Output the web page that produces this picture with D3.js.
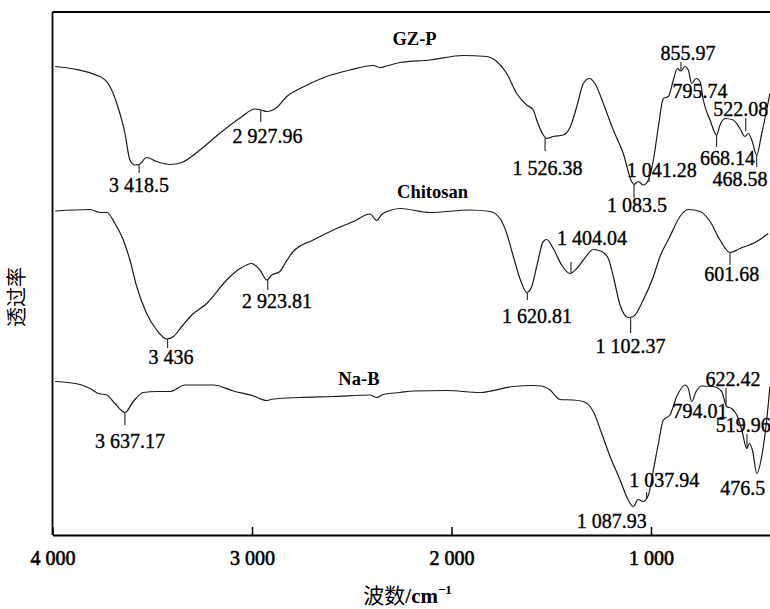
<!DOCTYPE html>
<html><head><meta charset="utf-8">
<script src="https://cdn.jsdelivr.net/npm/d3@7"></script>
<style>
html,body{margin:0;padding:0;background:#fff;}
svg{display:block;}
</style>
</head><body>
<svg id="chart" width="770" height="609"></svg>
<script>
// ---- data (wavenumber cm-1, transmittance offset units) ----
const gzpSpectrum = [[3987,93.7],[3762,91.7],[3712,89.7],[3672,85.6],[3637,80.4],[3612,75.0],[3586,74.0],[3566,74.1],[3528,75.5],[3478,74.7],[3411,74.1],[3352,74.5],[3261,77.0],[3160,80.4],[3060,83.4],[2985,85.2],[2956,85.0],[2926,84.7],[2876,85.5],[2826,87.7],[2759,89.3],[2626,91.7],[2509,93.0],[2392,93.9],[2358,93.5],[2325,93.8],[2258,94.5],[2108,95.0],[1941,95.9],[1824,95.7],[1773,94.7],[1723,92.3],[1673,88.3],[1623,86.0],[1590,85.0],[1573,83.0],[1540,80.0],[1523,79.3],[1490,79.7],[1440,80.0],[1406,81.5],[1372,85.7],[1339,90.3],[1309,91.3],[1281,90.3],[1239,86.3],[1189,81.0],[1139,76.3],[1097,70.7],[1085,70.1],[1064,70.7],[1039,70.0],[1013,71.0],[988,75.0],[963,81.7],[938,87.3],[913,87.7],[888,91.0],[868,93.3],[850,92.8],[830,93.7],[813,93.0],[796,90.3],[774,91.3],[754,90.7],[738,87.0],[704,83.0],[671,80.0],[654,82.0],[629,83.3],[588,83.0],[554,81.3],[529,79.7],[512,80.3],[495,79.0],[470,76.0],[445,80.3],[420,85.0],[404,88.3]];
const chitosanSpectrum = [[3987,64.8],[3812,65.1],[3762,64.5],[3728,64.5],[3687,62.3],[3645,59.0],[3612,55.0],[3578,49.7],[3528,44.3],[3478,41.0],[3428,39.2],[3394,39.7],[3352,41.7],[3302,44.0],[3227,46.3],[3127,51.0],[3060,53.3],[3002,54.3],[2960,53.0],[2926,51.0],[2901,52.0],[2860,52.7],[2835,54.3],[2793,56.7],[2693,59.0],[2592,61.0],[2492,62.7],[2408,64.2],[2375,62.9],[2350,64.1],[2300,65.0],[2258,65.3],[2108,64.5],[1907,65.0],[1807,64.7],[1757,63.3],[1723,60.3],[1690,55.7],[1648,50.3],[1623,48.5],[1598,49.7],[1573,53.7],[1540,58.7],[1523,59.1],[1490,57.3],[1448,54.0],[1406,52.3],[1372,53.3],[1339,55.0],[1289,57.1],[1247,56.7],[1214,55.3],[1189,51.7],[1155,46.0],[1114,43.5],[1089,43.7],[1039,47.0],[988,51.7],[955,55.7],[905,59.7],[855,63.7],[813,65.1],[754,64.7],[704,62.7],[654,59.0],[604,56.5],[554,57.3],[470,58.7],[412,60.3]];
const naBSpectrum = [[3987,30.7],[3862,30.1],[3812,29.3],[3770,28.3],[3728,28.0],[3687,26.3],[3637,24.5],[3595,26.7],[3545,28.5],[3478,28.7],[3411,28.7],[3336,30.0],[3194,30.0],[3094,28.8],[2993,27.8],[2926,26.9],[2893,27.2],[2759,27.5],[2592,27.7],[2408,28.0],[2375,27.5],[2342,28.1],[2258,28.5],[2191,28.8],[2024,28.9],[1857,28.5],[1690,29.7],[1590,29.9],[1548,29.8],[1506,29.0],[1456,27.1],[1390,27.0],[1339,26.7],[1289,24.7],[1247,20.3],[1205,15.7],[1155,11.0],[1114,7.0],[1089,5.7],[1064,7.1],[1039,6.7],[1013,8.0],[988,13.0],[963,18.3],[938,23.0],[905,24.0],[871,27.7],[830,30.0],[813,29.3],[796,26.7],[774,28.7],[746,29.8],[688,29.7],[646,28.7],[621,25.7],[596,25.3],[570,24.0],[545,21.0],[520,17.3],[507,18.3],[490,16.7],[470,12.3],[445,15.7],[420,23.0],[404,29.7]];

const seriesNames = ["GZ-P", "Chitosan", "Na-B"];
const seriesNamePos = [[2185,98.0],[2095,67.4],[2464,30.0]];
const xTickValues = [4000, 3000, 2000, 1000];
const xAxisTitle = "波数/cm";
const yAxisTitle = "透过率";

// peak annotations: [tick wavenumber, tick T from, tick T to, label text, label wavenumber, label T]
const gzpPeaks = [[3566,74.0,72.4,"3 418.5",3566,68.6],[2956,84.8,82.6,"2 927.96",2922,78.4],[1531,79.4,76.8,"1 526.38",1519,72.0],[1010,70.6,72.0,"1 041.28",946,71.6],[1085,70.0,67.4,"1 083.5",1070,64.6],[850,94.6,93.0,"855.97",815,95.0],[null,0,0,"795.74",754,87.4],[525,83.4,80.8,"522.08",550,83.8],[671,80.0,77.6,"668.14",617,74.0],[470,76.0,73.6,"468.58",554,69.8]];
const chitosanPeaks = [[3423,39.2,37.4,"3 436",3406,34.2],[2921,51.0,49.0,"2 923.81",2875,45.4],[1620,48.4,47.0,"1 620.81",1571,42.4],[1401,54.6,52.4,"1 404.04",1296,58.0],[1102,43.4,40.4,"1 102.37",1103,36.4],[604,56.4,54.0,"601.68",595,50.8]];
const naBPeaks = [[3637,24.4,22.0,"3 637.17",3612,17.4],[null,0,0,"1 087.93",1197,1.4],[1022,8.6,7.4,"1 037.94",933,9.6],[null,0,0,"794.01",754,23.4],[624,29.4,26.0,"622.42",589,29.8],[519,20.2,17.2,"519.96",537,20.6],[null,0,0,"476.5",540,8.0]];

// ---- layout ----
const svg = d3.select("#chart");
const pLeft = 52.5, pRight = 770.7, pTop = 12, pBottom = 535;
const x = d3.scaleLinear().domain([4000, 400]).range([pLeft, pRight]);
const y = d3.scaleLinear().domain([0, 104.6]).range([pBottom, pTop]);
const serif = "'Liberation Serif','Times New Roman',serif";

const line = d3.line().x(d => x(d[0])).y(d => y(d[1])).curve(d3.curveMonotoneX);
[gzpSpectrum, chitosanSpectrum, naBSpectrum].forEach(s => {
  svg.append("path").datum(s).attr("d", line)
    .attr("fill", "none").attr("stroke", "#1a1a1a").attr("stroke-width", 1.2)
    .attr("stroke-linejoin", "round");
});

// frame
svg.append("line").attr("x1", pLeft).attr("x2", pLeft).attr("y1", pTop).attr("y2", pBottom)
  .attr("stroke", "#000").attr("stroke-width", 1.8);
svg.append("line").attr("x1", pLeft).attr("x2", 770).attr("y1", pTop).attr("y2", pTop)
  .attr("stroke", "#000").attr("stroke-width", 1.8);

const xAxis = d3.axisBottom(x).tickValues(xTickValues).tickSize(-8).tickSizeOuter(0).tickPadding(16)
  .tickFormat(d => d3.format(",")(d).replace(",", " "));
const gx = svg.append("g").attr("transform", `translate(0,${pBottom})`).call(xAxis);
gx.select(".domain").attr("stroke", "#000").attr("stroke-width", 1.8);
gx.selectAll(".tick line").attr("stroke", "#000").attr("stroke-width", 1.5);
gx.selectAll(".tick text").attr("font-family", serif).attr("font-size", 20).attr("fill", "#000")
  .attr("stroke", "#000").attr("stroke-width", 0.6);

// annotations
[gzpPeaks, chitosanPeaks, naBPeaks].forEach(list => {
  list.forEach(p => {
    if (p[0] !== null) {
      svg.append("line").attr("x1", x(p[0])).attr("x2", x(p[0]))
        .attr("y1", y(p[1])).attr("y2", y(p[2]))
        .attr("stroke", "#222").attr("stroke-width", 1.1);
    }
    svg.append("text").attr("x", x(p[4])).attr("y", y(p[5]))
      .attr("text-anchor", "middle").attr("font-family", serif).attr("font-size", 20)
      .attr("fill", "#000").attr("stroke", "#000").attr("stroke-width", 0.35).text(p[3]);
  });
});

// series names
seriesNames.forEach((n, i) => {
  svg.append("text").attr("x", x(seriesNamePos[i][0])).attr("y", y(seriesNamePos[i][1]))
    .attr("text-anchor", "middle").attr("font-family", serif).attr("font-weight", "bold")
    .attr("font-size", 18.5).attr("fill", "#000").text(n);
});

// axis titles
const xt = svg.append("text").attr("x", (pLeft + pRight) / 2 - 4).attr("y", 603)
  .attr("text-anchor", "middle").attr("fill", "#000");
xt.append("tspan").attr("font-family", "'Noto Sans CJK SC',sans-serif").attr("font-size", 21).text(xAxisTitle.slice(0, 2));
xt.append("tspan").attr("font-family", serif).attr("font-weight", "bold").attr("font-size", 21).text(xAxisTitle.slice(2));
xt.append("tspan").attr("font-family", serif).attr("font-weight", "bold").attr("font-size", 13).attr("dy", -9).text("−1");

svg.append("text").attr("transform", "translate(24,297) rotate(-90)")
  .attr("text-anchor", "middle").attr("font-family", "'Noto Sans CJK SC',sans-serif")
  .attr("font-size", 20).attr("fill", "#000").text(yAxisTitle);
</script>
</body></html>
